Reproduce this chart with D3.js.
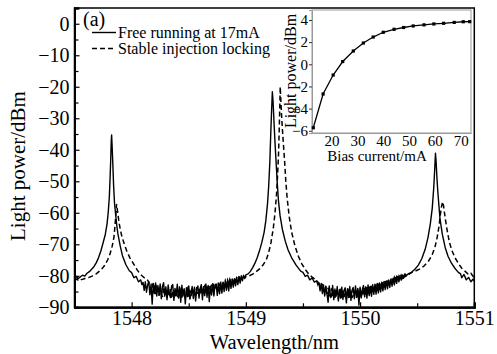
<!DOCTYPE html>
<html>
<head>
<meta charset="utf-8">
<script src="https://cdn.jsdelivr.net/npm/d3@7"></script>
<style>
  body { margin: 0; background: #fff; }
  svg text { font-family: "Liberation Serif", "Times New Roman", serif; fill: #000; }
</style>
</head>
<body>
<div id="chart-area"></div>
<script>
/*
*    spectrum + inset P-I curve
*/

// ---- main spectrum, free running at 17mA (solid) ----
var solidPeak1 = [[1547.50,-80.8],[1547.52,-80.2],[1547.53,-80.9],[1547.55,-80.4],[1547.57,-79.8],[1547.59,-80.1],[1547.61,-79.2],[1547.63,-78.7],[1547.65,-77.9],[1547.67,-77.1],[1547.69,-75.9],[1547.71,-74.3],[1547.73,-72.2],[1547.75,-69.6],[1547.77,-66.8],[1547.785,-63.5],[1547.795,-60.0],[1547.805,-55.0],[1547.812,-48.5],[1547.818,-42.0],[1547.822,-37.0],[1547.825,-35.3],[1547.829,-38.5],[1547.835,-44.0],[1547.842,-51.0],[1547.85,-56.8],[1547.86,-60.5],[1547.87,-64.0],[1547.88,-66.7],[1547.90,-70.5],[1547.92,-73.6],[1547.95,-76.5],[1547.98,-78.4],[1548.00,-79.0],[1548.02,-80.6],[1548.04,-80.2],[1548.06,-81.9],[1548.08,-81.3],[1548.09,-82.8]];
var solidFloorAStart = 1548.10;
var solidFloorA = [-82.1,-84.6,-81.9,-85.2,-83.0,-81.8,-86.0,-82.7,-89.0,-82.4,
  -85.6,-82.3,-86.4,-83.1,-85.9,-82.6,-87.3,-83.4,-82.2,-86.5,
  -83.5,-87.6,-82.9,-85.8,-86.9,-83.2,-82.8,-87.8,-84.0,-86.2,
  -82.7,-87.0,-83.5,-88.4,-83.0,-86.4,-84.1,-88.9,-83.8,-86.6,
  -83.2,-87.4,-85.9,-83.4,-87.2,-83.6,-88.0,-84.3,-83.2,-87.1,
  -84.0,-82.8,-87.6,-83.5,-86.3,-82.6,-86.8,-83.1,-88.2,-83.3,
  -86.1,-82.5,-86.4,-83.0,-82.6,-86.2,-82.7,-85.7,-82.2,-85.5,
  -82.0,-85.0,-81.7,-84.6,-81.6,-84.8,-81.2,-84.0,-81.1,-83.6,
  -80.9,-83.2,-80.6,-82.8,-80.3,-82.3,-80.0,-81.6,-79.8,-80.9,-79.7];
var solidPeak2 = [[1549.02,-79.4],[1549.04,-78.6],[1549.06,-77.4],[1549.08,-76.0],[1549.10,-74.2],[1549.12,-72.0],[1549.14,-69.4],[1549.16,-66.2],[1549.175,-62.5],[1549.19,-57.0],[1549.20,-51.5],[1549.21,-44.0],[1549.218,-35.0],[1549.226,-27.0],[1549.232,-21.6],[1549.238,-24.5],[1549.245,-30.0],[1549.255,-37.5],[1549.265,-44.0],[1549.275,-50.5],[1549.285,-56.0],[1549.30,-61.0],[1549.32,-65.3],[1549.345,-69.0],[1549.37,-71.8],[1549.40,-74.2],[1549.44,-76.6],[1549.48,-78.5],[1549.50,-78.9],[1549.52,-80.2],[1549.54,-79.8],[1549.56,-81.3],[1549.58,-80.7],[1549.60,-82.0],[1549.62,-81.6]];
var solidFloorBStart = 1549.64;
var solidFloorB = [-82.3,-84.8,-82.4,-85.6,-82.9,-86.4,-83.3,-85.7,-88.4,-83.2,
  -85.9,-86.7,-83.1,-87.6,-84.2,-86.5,-83.4,-88.0,-84.3,-87.1,
  -83.6,-87.5,-84.6,-83.8,-88.6,-84.1,-86.9,-83.4,-87.8,-84.5,
  -83.7,-87.3,-83.2,-86.8,-84.0,-89.3,-83.6,-87.0,-84.3,-83.1,
  -86.7,-83.5,-87.1,-82.9,-86.3,-83.4,-86.5,-82.8,-85.9,-82.7,
  -85.8,-82.4,-85.4,-82.3,-85.1,-82.0,-84.8,-81.8,-84.4,-81.6,
  -84.1,-81.3,-83.7,-81.0,-83.3,-80.8,-82.9,-80.5,-82.4,-80.2,
  -81.9,-79.9,-81.4,-79.7,-80.8,-79.4,-80.2];
var solidPeak3 = [[1550.42,-79.4],[1550.45,-78.9],[1550.48,-77.9],[1550.51,-76.6],[1550.54,-74.6],[1550.57,-71.6],[1550.595,-67.8],[1550.615,-63.5],[1550.632,-58.5],[1550.645,-52.0],[1550.653,-46.5],[1550.66,-41.1],[1550.666,-44.0],[1550.673,-49.0],[1550.681,-53.5],[1550.692,-58.5],[1550.70,-62.0],[1550.72,-66.8],[1550.745,-71.0],[1550.77,-73.8],[1550.80,-76.0],[1550.83,-77.6],[1550.86,-78.9],[1550.88,-79.4],[1550.89,-80.6],[1550.91,-79.6],[1550.93,-81.3],[1550.95,-80.5],[1550.97,-81.9],[1550.99,-81.0],[1551.00,-81.8]];

// ---- main spectrum, stable injection locking (dashed) ----
var dashedPeak1 = [[1547.50,-81.5],[1547.52,-81.0],[1547.54,-81.7],[1547.56,-81.2],[1547.58,-81.0],[1547.60,-80.7],[1547.62,-80.6],[1547.65,-80.2],[1547.69,-79.4],[1547.73,-78.2],[1547.76,-76.9],[1547.79,-75.0],[1547.81,-73.2],[1547.83,-70.6],[1547.845,-67.8],[1547.855,-64.0],[1547.862,-60.5],[1547.868,-57.2],[1547.876,-59.3],[1547.885,-61.8],[1547.895,-64.2],[1547.91,-66.8],[1547.93,-69.3],[1547.955,-71.9],[1547.985,-74.3],[1548.02,-76.4],[1548.05,-78.2],[1548.08,-79.6],[1548.11,-80.6],[1548.14,-81.4]];
var dashedFloorAStart = 1548.15;
var dashedFloorA = [-82.0,-83.6,-84.4,-82.5,-85.3,-83.1,-85.8,-83.6,-84.6,-86.4,
  -83.7,-85.6,-86.7,-84.0,-86.1,-84.5,-87.0,-84.6,-86.3,-84.2,
  -87.3,-85.0,-84.4,-86.8,-84.6,-86.4,-87.4,-84.8,-84.3,-86.9,
  -85.0,-84.6,-87.1,-85.0,-84.1,-86.6,-84.5,-86.4,-83.9,-86.0,
  -84.3,-86.3,-83.6,-85.7,-84.0,-86.0,-83.5,-85.6,-83.8,-83.2,
  -85.4,-83.4,-85.0,-83.0,-84.8,-82.8,-84.4,-82.6,-84.1,-82.4,
  -84.0,-82.2,-83.7,-81.9,-83.4,-81.7,-83.0,-81.5,-82.7,-81.3,
  -82.4,-81.1,-82.1,-80.9,-81.9,-80.8,-81.5,-80.6,-81.2,-80.4,
  -81.0,-80.4,-80.8,-80.3,-80.6,-80.3];
var dashedPeak2 = [[1549.03,-80.0],[1549.06,-79.5],[1549.09,-78.7],[1549.12,-77.8],[1549.15,-76.6],[1549.18,-74.8],[1549.20,-72.6],[1549.22,-69.5],[1549.24,-65.0],[1549.255,-60.2],[1549.268,-54.5],[1549.278,-48.0],[1549.286,-41.5],[1549.292,-34.0],[1549.297,-26.5],[1549.301,-20.0],[1549.306,-24.0],[1549.312,-28.5],[1549.32,-33.5],[1549.33,-38.8],[1549.34,-44.0],[1549.35,-50.0],[1549.362,-55.5],[1549.38,-61.3],[1549.40,-66.0],[1549.43,-70.5],[1549.46,-73.8],[1549.49,-76.2],[1549.52,-78.0],[1549.55,-79.4],[1549.58,-80.4],[1549.61,-81.2]];
var dashedFloorBStart = 1549.62;
var dashedFloorB = [-81.6,-82.8,-81.9,-83.6,-84.2,-82.6,-84.6,-85.4,-83.4,-85.8,
  -83.8,-86.0,-86.6,-84.0,-86.4,-84.5,-87.0,-84.6,-86.6,-87.3,
  -84.9,-84.4,-87.0,-84.7,-86.8,-84.2,-87.3,-85.0,-84.5,-86.9,
  -84.8,-87.1,-84.3,-86.7,-84.6,-87.0,-84.4,-86.5,-84.0,-86.6,
  -84.3,-86.2,-83.8,-86.0,-83.6,-85.8,-83.4,-85.5,-83.2,-85.3,
  -83.0,-85.0,-82.7,-84.8,-82.5,-84.4,-82.3,-84.2,-82.0,-83.8,
  -81.7,-83.4,-81.5,-83.0,-81.2,-82.6,-80.9,-82.2,-80.6,-81.8,
  -80.4,-81.5,-80.2,-81.1,-79.9,-80.7,-79.8,-80.3,-79.6,-79.9,
  -79.4,-79.5,-79.2,-79.0,-78.8];
var dashedPeak3 = [[1550.49,-78.4],[1550.52,-77.9],[1550.56,-76.9],[1550.60,-75.3],[1550.63,-73.4],[1550.655,-71.0],[1550.675,-67.8],[1550.69,-64.5],[1550.70,-61.5],[1550.71,-58.6],[1550.722,-56.5],[1550.73,-57.6],[1550.738,-59.8],[1550.748,-62.3],[1550.762,-65.5],[1550.78,-69.0],[1550.80,-71.6],[1550.83,-74.2],[1550.86,-76.0],[1550.89,-77.6],[1550.92,-78.6],[1550.95,-79.6],[1550.97,-79.2],[1550.99,-80.2],[1551.00,-80.5]];
var floorStep = 0.01;

var xTicks = [1548, 1549, 1550, 1551];
var xMinorTicks = [1548.5, 1549.5, 1550.5];
var yTicks = [0, -10, -20, -30, -40, -50, -60, -70, -80, -90];
var yMinorTicks = [-5, -15, -25, -35, -45, -55, -65, -75, -85];

// ---- inset: light power vs bias current ----
var biasCurrent = [12.9, 16.7, 20.6, 24.3, 28.4, 32.3, 36.1, 40.0, 44.2, 47.9, 51.6, 55.8, 59.6, 63.4, 67.5, 71.0, 73.5];
var lightPower = [-5.73, -2.68, -0.97, 0.25, 1.2, 1.92, 2.46, 2.89, 3.16, 3.32, 3.46, 3.56, 3.64, 3.70, 3.78, 3.84, 3.85];
var insetXTicks = [20, 30, 40, 50, 60, 70];
var insetYTicks = [4, 2, 0, -2, -4, -6];

function floorPoints(start, vals) {
  return vals.map((v, i) => [start + i * floorStep, v]);
}
var solidData = solidPeak1
  .concat(floorPoints(solidFloorAStart, solidFloorA))
  .concat(solidPeak2)
  .concat(floorPoints(solidFloorBStart, solidFloorB))
  .concat(solidPeak3);
var dashedData = dashedPeak1
  .concat(floorPoints(dashedFloorAStart, dashedFloorA))
  .concat(dashedPeak2)
  .concat(floorPoints(dashedFloorBStart, dashedFloorB))
  .concat(dashedPeak3);

var width = 497;
var height = 354;
var plot = { left: 74.5, right: 474.3, top: 8, bottom: 307.3 };

var svg = d3.select("#chart-area")
  .append("svg")
  .attr("width", width)
  .attr("height", height)
  .style("background", "#fff");

var x = d3.scaleLinear()
  .domain([1547.5, 1551])
  .range([plot.left, plot.right]);

var y = d3.scaleLinear()
  .domain([-90, 5])
  .range([plot.bottom, plot.top]);

var line = d3.line()
  .x(d => x(d[0]))
  .y(d => y(d[1]));

svg.append("path")
  .datum(dashedData)
  .attr("fill", "none")
  .attr("stroke", "#000")
  .attr("stroke-width", 1.5)
  .attr("stroke-dasharray", "5,3")
  .attr("d", line);

svg.append("path")
  .datum(solidData)
  .attr("fill", "none")
  .attr("stroke", "#000")
  .attr("stroke-width", 1.4)
  .attr("stroke-linejoin", "round")
  .attr("d", line);

// frame
svg.append("rect")
  .attr("x", plot.left)
  .attr("y", plot.top)
  .attr("width", plot.right - plot.left)
  .attr("height", plot.bottom - plot.top)
  .attr("fill", "none")
  .attr("stroke", "#000")
  .attr("stroke-width", 1.5);

// axes (ticks inward)
var xAxisG = svg.append("g")
  .attr("transform", "translate(0," + plot.bottom + ")")
  .call(d3.axisBottom(x).tickValues(xTicks).tickSize(-5).tickPadding(4).tickFormat(d3.format("d")));
svg.append("g")
  .attr("transform", "translate(0," + plot.bottom + ")")
  .call(d3.axisBottom(x).tickValues(xMinorTicks).tickSize(-4).tickFormat(""));

var yAxisG = svg.append("g")
  .attr("transform", "translate(" + plot.left + ",0)")
  .call(d3.axisLeft(y).tickValues(yTicks).tickSize(-5).tickPadding(5));
svg.append("g")
  .attr("transform", "translate(" + plot.left + ",0)")
  .call(d3.axisLeft(y).tickValues(yMinorTicks).tickSize(-4).tickFormat(""));

svg.selectAll(".domain").attr("stroke", "#000").attr("stroke-width", 2);
svg.selectAll(".tick line").attr("stroke", "#000").attr("stroke-width", 1.2);
xAxisG.selectAll("text").style("font-size", "20px");
yAxisG.selectAll("text").style("font-size", "20px");

svg.append("text")
  .attr("x", (plot.left + plot.right) / 2)
  .attr("y", 348.5)
  .attr("text-anchor", "middle")
  .style("font-size", "20.5px")
  .text("Wavelength/nm");

svg.append("text")
  .attr("transform", "translate(25,166) rotate(-90)")
  .attr("text-anchor", "middle")
  .style("font-size", "21px")
  .text("Light power/dBm");

// legend
svg.append("text")
  .attr("x", 83)
  .attr("y", 26)
  .style("font-size", "20px")
  .text("(a)");

svg.append("line")
  .attr("x1", 92).attr("x2", 116)
  .attr("y1", 32.5).attr("y2", 32.5)
  .attr("stroke", "#000").attr("stroke-width", 1.4);
svg.append("line")
  .attr("x1", 92).attr("x2", 116)
  .attr("y1", 48.5).attr("y2", 48.5)
  .attr("stroke", "#000").attr("stroke-width", 1.5)
  .attr("stroke-dasharray", "5,3");
svg.append("text")
  .attr("x", 118).attr("y", 37.5)
  .style("font-size", "16px")
  .text("Free running at 17mA");
svg.append("text")
  .attr("x", 118).attr("y", 53.5)
  .style("font-size", "16px")
  .text("Stable injection locking");

// ---- inset ----
var inset = { left: 312, right: 471, top: 10, bottom: 133 };

var ix = d3.scaleLinear()
  .domain([12.4, 74])
  .range([inset.left, inset.right]);

var iy = d3.scaleLinear()
  .domain([-6.2, 4.9])
  .range([inset.bottom, inset.top]);

svg.append("rect")
  .attr("x", inset.left)
  .attr("y", inset.top)
  .attr("width", inset.right - inset.left)
  .attr("height", inset.bottom - inset.top)
  .attr("fill", "#fff")
  .attr("stroke", "#999")
  .attr("stroke-width", 1);

var insetX = svg.append("g")
  .attr("transform", "translate(0," + inset.bottom + ")")
  .call(d3.axisBottom(ix).tickValues(insetXTicks).tickSize(0).tickPadding(2));
var insetY = svg.append("g")
  .attr("transform", "translate(" + inset.left + ",0)")
  .call(d3.axisLeft(iy).tickValues(insetYTicks).tickSize(3).tickPadding(1));
insetX.select(".domain").attr("stroke", "#999").attr("stroke-width", 1);
insetY.select(".domain").attr("stroke", "#999").attr("stroke-width", 1);
insetY.selectAll(".tick line").attr("stroke", "#333");
insetX.selectAll("text").style("font-size", "15px");
insetY.selectAll("text").style("font-size", "15px");

var insetPts = biasCurrent.map((b, i) => ({ b: b, p: lightPower[i] }));

svg.append("path")
  .datum(insetPts)
  .attr("fill", "none")
  .attr("stroke", "#000")
  .attr("stroke-width", 1.3)
  .attr("d", d3.line().x(d => ix(d.b)).y(d => iy(d.p)));

svg.selectAll("rect.pt")
  .data(insetPts)
  .enter().append("rect")
  .attr("class", "pt")
  .attr("x", d => ix(d.b) - 1.6)
  .attr("y", d => iy(d.p) - 1.6)
  .attr("width", 3.2)
  .attr("height", 3.2)
  .attr("fill", "#000");

svg.append("text")
  .attr("x", 377)
  .attr("y", 161)
  .attr("text-anchor", "middle")
  .style("font-size", "15px")
  .text("Bias current/mA");

svg.append("text")
  .attr("transform", "translate(296,71) rotate(-90)")
  .attr("text-anchor", "middle")
  .style("font-size", "16px")
  .text("Light power/dBm");
</script>
</body>
</html>
